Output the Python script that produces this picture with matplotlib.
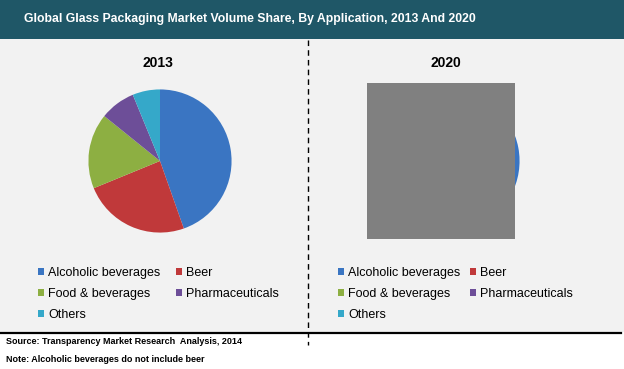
import matplotlib.pyplot as plt
from matplotlib.patches import Rectangle, Patch
from matplotlib.lines import Line2D

W, H = 624, 369

categories = ["Alcoholic beverages", "Beer", "Food & beverages", "Pharmaceuticals", "Others"]
share_2013 = [44.6, 24.2, 17.0, 8.0, 6.2]
share_2020 = [44.0, 24.0, 17.5, 8.3, 6.2]
colors = ["#3A75C2", "#C0393A", "#8DAF42", "#6D4E98", "#35A8C9"]

title = "Global Glass Packaging Market Volume Share, By Application, 2013 And 2020"
source = "Source: Transparency Market Research  Analysis, 2014"
note = "Note: Alcoholic beverages do not include beer"

plt.rcParams['font.family'] = ['Liberation Sans', 'DejaVu Sans']


def box(x, y, w, h):
    # pixel box (top-left origin) -> figure fraction
    return [x / W, 1 - (y + h) / H, w / W, h / H]


def fx(x):
    return x / W


def fy(y):
    return 1 - y / H


fig = plt.figure(figsize=(W / 100, H / 100), dpi=100)
fig.patch.set_facecolor("white")

# background panels
fig.add_artist(Rectangle((0, fy(332)), 1, fy(39) - fy(332), transform=fig.transFigure,
                         facecolor="#F2F2F2", edgecolor="none", zorder=0))
fig.add_artist(Rectangle((0, fy(39)), 1, 1 - fy(39), transform=fig.transFigure,
                         facecolor="#1F5767", edgecolor="none", zorder=1))
fig.text(fx(24), fy(19), title, color="white", fontsize=8.8, fontweight="bold",
         va="center", ha="left")

# separators
fig.add_artist(Line2D([0, fx(621)], [fy(332.5), fy(332.5)], transform=fig.transFigure,
                      color="black", lw=1.6, zorder=3))
fig.add_artist(Line2D([fx(308), fx(308)], [fy(40), fy(345)], transform=fig.transFigure,
                      color="black", lw=1, linestyle=(0, (4, 3)), zorder=3))

# pies
for cx, vals in [(160, share_2013), (448, share_2020)]:
    ax = fig.add_axes(box(cx - 73, 161 - 73, 146, 146))
    ax.pie(vals, colors=colors, startangle=90, counterclock=False, radius=1)
    ax.set_xlim(-1.02, 1.02)
    ax.set_ylim(-1.02, 1.02)
    ax.set_aspect("equal")
    ax.axis("off")

fig.text(fx(157.5), fy(63), "2013", fontsize=10, fontweight="bold", ha="center", va="center")
fig.text(fx(446), fy(63), "2020", fontsize=10, fontweight="bold", ha="center", va="center")

# grey block over the 2020 pie
fig.add_artist(Rectangle((fx(367), fy(239)), fx(515) - fx(367), fy(83) - fy(239),
                         transform=fig.transFigure, facecolor="#808080",
                         edgecolor="none", zorder=5))

# legends (row-wise order)
order = [0, 2, 4, 1, 3]
handles = [Patch(facecolor=colors[i], edgecolor="none") for i in order]
labels = [categories[i] for i in order]
for x0, colsp in [(38, 1.25), (338, 0.75)]:
    fig.legend(handles, labels, ncol=2, loc="upper left", bbox_to_anchor=(fx(x0), fy(267)),
               frameon=False, fontsize=9, handlelength=0.5, handleheight=0.5,
               handletextpad=0.3, columnspacing=colsp, labelspacing=0.72,
               borderaxespad=0, borderpad=0)

fig.text(fx(6), fy(341), source, fontsize=6.5, fontweight="bold", va="center")
fig.text(fx(6), fy(360), note, fontsize=6.5, fontweight="bold", va="center")

fig.savefig("out.png", dpi=100, facecolor=fig.get_facecolor())
